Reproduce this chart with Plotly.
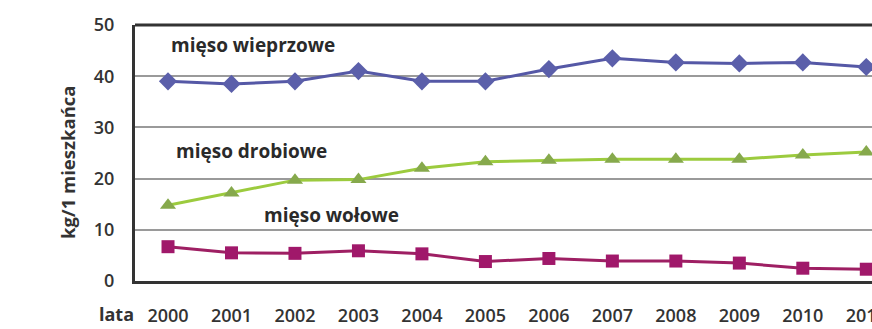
import plotly.graph_objects as go

years = [2000, 2001, 2002, 2003, 2004, 2005, 2006, 2007, 2008, 2009, 2010, 2011]
wieprzowe = [39.0, 38.5, 39.0, 41.0, 39.0, 39.0, 41.4, 43.5, 42.7, 42.5, 42.7, 41.8]
drobiowe = [14.8, 17.2, 19.7, 19.8, 22.0, 23.3, 23.6, 23.8, 23.8, 23.8, 24.6, 25.2]
wolowe = [6.7, 5.5, 5.4, 5.9, 5.3, 3.8, 4.4, 3.9, 3.9, 3.5, 2.5, 2.3]
y_ticks = [0, 10, 20, 30, 40, 50]

fig = go.Figure()
fig.add_trace(go.Scatter(x=years, y=wieprzowe, mode="lines+markers",
                         line=dict(color="#5558A6", width=3),
                         marker=dict(symbol="diamond", size=14, color="#5B5FAA")))
fig.add_trace(go.Scatter(x=years, y=drobiowe, mode="lines+markers",
                         line=dict(color="#9CCB3E", width=3),
                         marker=dict(symbol="triangle-up", size=14, color="#86A94C")))
fig.add_trace(go.Scatter(x=years, y=wolowe, mode="lines+markers",
                         line=dict(color="#9E1F63", width=3),
                         marker=dict(symbol="square", size=13, color="#A0186A")))

lab_font = dict(family="Open Sans", size=19, color="#2a2a2a", weight=700)
fig.add_annotation(x=2001.34, y=46, text="mięso wieprzowe", showarrow=False, font=lab_font)
fig.add_annotation(x=2001.31, y=25.3, text="mięso drobiowe", showarrow=False, font=lab_font)
fig.add_annotation(x=2002.57, y=12.9, text="mięso wołowe", showarrow=False, font=lab_font)

fig.add_annotation(xref="paper", yref="paper", x=0.002, y=-0.129, xanchor="right", yanchor="middle",
                   text="lata", showarrow=False,
                   font=dict(family="Open Sans", size=18, color="#333", weight=700))
fig.add_annotation(xref="paper", yref="paper", x=-0.091, y=0.465, xanchor="center", yanchor="middle",
                   text="kg/1 mieszkańca", textangle=-90, showarrow=False,
                   font=dict(family="Open Sans", size=18.5, color="#333", weight=700))

fig.add_shape(type="line", xref="paper", yref="paper", x0=0, x1=1, y0=1, y1=1,
              line=dict(color="#333", width=3))

tick_font = dict(family="Open Sans", size=18, color="#333", weight=600)
fig.update_layout(
    width=872, height=329,
    margin=dict(l=135, r=0, t=25, b=48),
    paper_bgcolor="white", plot_bgcolor="white",
    showlegend=False,
    xaxis=dict(range=[1999.48, 2011.09], tickvals=years, ticktext=[str(y) for y in years],
               showgrid=False, zeroline=False, showline=True, linecolor="#333", linewidth=3,
               ticks="", ticklabelstandoff=16, ticklabeloverflow="allow", automargin=False,
               tickfont=tick_font),
    yaxis=dict(range=[0, 50], tickvals=y_ticks, showgrid=True, gridcolor="#9a9a9a", gridwidth=2,
               zeroline=False, showline=True, linecolor="#333", linewidth=3,
               ticks="", ticklabelstandoff=14, automargin=False,
               tickfont=tick_font),
)

fig.write_html("out.html")
